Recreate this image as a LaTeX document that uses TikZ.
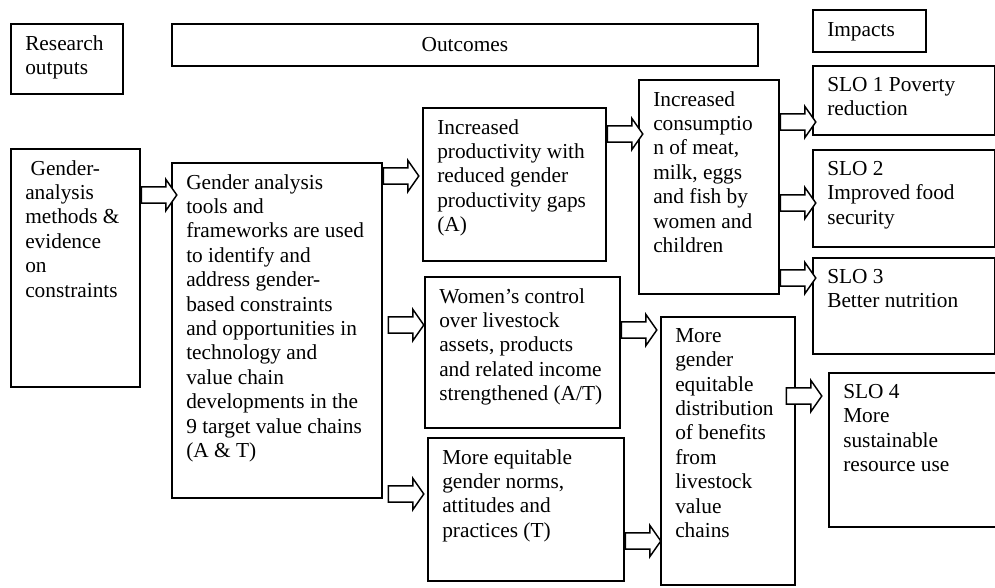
\documentclass[tikz,border=0pt]{standalone}
\usepackage{fontspec}
\setmainfont{Liberation Serif}
\usetikzlibrary{shapes.arrows}

\begin{document}
\begin{tikzpicture}[x=0.75pt, y=-0.75pt, font=\fontsize{16}{18.3}\selectfont,
	box/.style={draw, line width=1.3pt, anchor=north west, inner sep=0pt},
	txt/.style={anchor=north west, align=left, inner sep=0pt},
	blk/.style={single arrow, draw, fill=white, line width=1.1pt, anchor=tail,
		inner xsep=0pt, inner ysep=5.6pt, minimum width=22.5pt, minimum height=26.5pt,
		single arrow head extend=5.6pt, single arrow tip angle=110}]
	\useasboundingbox (0,0) rectangle (995,587);
	\clip (0,0) rectangle (995,587);
	% column headers
	\node[box, minimum width=84pt, minimum height=52.5pt] (res) at (10,23) {};
	\node[txt] (res-t) at ([shift={(15,12)}]res.north west) {Research\\outputs};
	\node[box, minimum width=439.5pt, minimum height=31.5pt] (outc) at (171,23) {Outcomes};
	\node[box, minimum width=84.75pt, minimum height=31.5pt] (imp) at (812,9) {};
	\node[txt] (imp-t) at ([shift={(15,13)}]imp.north west) {Impacts};
	% research outputs
	\node[box, minimum width=96.75pt, minimum height=178.5pt] (ga) at (10,148) {};
	\node[txt] (ga-t) at ([shift={(15,12)}]ga.north west)
		{\hspace*{4pt}Gender-\\analysis\\methods \&\\evidence\\on\\constraints};
	\node[box, minimum width=157.5pt, minimum height=251.25pt] (tools) at (171,162) {};
	\node[txt] (tools-t) at ([shift={(15,12)}]tools.north west)
		{Gender analysis\\tools and\\frameworks are used\\to identify and\\address gender-\\based constraints\\and opportunities in\\technology and\\value chain\\developments in the\\9 target value chains\\(A \& T)};
	% outcomes
	\node[box, minimum width=137.25pt, minimum height=114.75pt] (prod) at (422,107) {};
	\node[txt] (prod-t) at ([shift={(15,12)}]prod.north west)
		{Increased\\productivity with\\reduced gender\\productivity gaps\\(A)};
	\node[box, minimum width=146.25pt, minimum height=113.25pt] (wom) at (424,276) {};
	\node[txt] (wom-t) at ([shift={(15,12)}]wom.north west)
		{Women’s control\\over livestock\\assets, products\\and related income\\strengthened (A/T)};
	\node[box, minimum width=147pt, minimum height=107.25pt] (norm) at (427,437) {};
	\node[txt] (norm-t) at ([shift={(15,12)}]norm.north west)
		{More equitable\\gender norms,\\attitudes and\\practices (T)};
	\node[box, minimum width=105pt, minimum height=160.5pt] (cons) at (638,79) {};
	\node[txt] (cons-t) at ([shift={(15,12)}]cons.north west)
		{Increased\\consumptio\\n of meat,\\milk, eggs\\and fish by\\women and\\children};
	\node[box, minimum width=100.5pt, minimum height=201pt] (dist) at (660,316) {};
	\node[txt] (dist-t) at ([shift={(15,12)}]dist.north west)
		{More\\gender\\equitable\\distribution\\of benefits\\from\\livestock\\value\\chains};
	% impacts
	\node[box, minimum width=136.5pt, minimum height=51.75pt] (slo1) at (812,65) {};
	\node[txt] (slo1-t) at ([shift={(15,12)}]slo1.north west) {SLO 1 Poverty\\reduction};
	\node[box, minimum width=136.5pt, minimum height=72.75pt] (slo2) at (812,149) {};
	\node[txt] (slo2-t) at ([shift={(15,12)}]slo2.north west) {SLO 2\\Improved food\\security};
	\node[box, minimum width=136.5pt, minimum height=72pt] (slo3) at (812,257) {};
	\node[txt] (slo3-t) at ([shift={(15,12)}]slo3.north west) {SLO 3\\Better nutrition};
	\node[box, minimum width=142.5pt, minimum height=115.5pt] (slo4) at (828,372) {};
	\node[txt] (slo4-t) at ([shift={(15,12)}]slo4.north west)
		{SLO 4\\More\\sustainable\\resource use};
	% block arrows
	\node[blk] (a1) at (ga.east |- 0,195) {};
	\node[blk] (a2) at (tools.east |- 0,176) {};
	\node[blk] (a3) at (prod.east |- 0,134) {};
	\node[blk] (a4) at (cons.east |- 0,122) {};
	\node[blk] (a5) at (cons.east |- 0,203) {};
	\node[blk] (a6) at (cons.east |- 0,278) {};
	\node[blk] (a7) at ([xshift=3.75pt]tools.east |- 0,325) {};
	\node[blk] (a8) at ([xshift=3.75pt]tools.east |- 0,494) {};
	\node[blk] (a9) at (wom.east |- 0,330) {};
	\node[blk] (a10) at (norm.east |- 0,541) {};
	\node[blk] (a11) at ([xshift=-7.5pt]dist.east |- 0,396) {};
\end{tikzpicture}
\end{document}
